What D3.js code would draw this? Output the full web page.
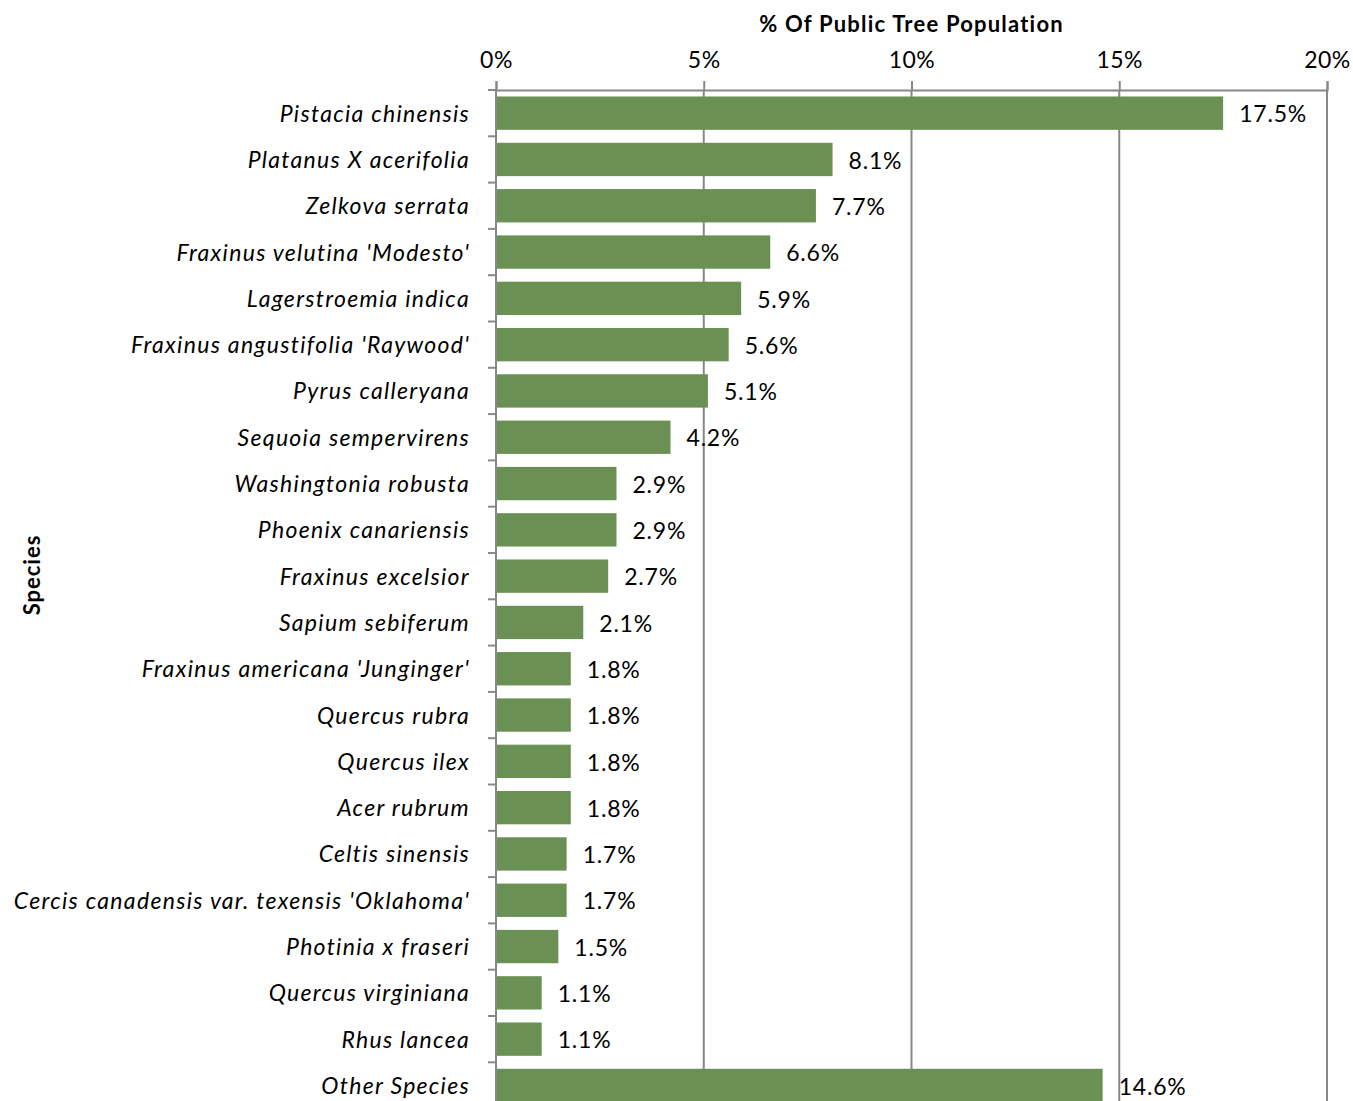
<!DOCTYPE html>
<html>
<head>
<meta charset="utf-8">
<script src="https://cdn.jsdelivr.net/npm/d3@7"></script>
<style>
  html, body { margin: 0; padding: 0; background: #fff; }
  svg { display: block; font-family: Lato, "Open Sans", sans-serif; }
</style>
</head>
<body>
<svg id="chart" width="1353" height="1101"></svg>
<script>
// Species and their share of the public tree population (%)
const species = [
  "Pistacia chinensis",
  "Platanus X acerifolia",
  "Zelkova serrata",
  "Fraxinus velutina 'Modesto'",
  "Lagerstroemia indica",
  "Fraxinus angustifolia 'Raywood'",
  "Pyrus calleryana",
  "Sequoia sempervirens",
  "Washingtonia robusta",
  "Phoenix canariensis",
  "Fraxinus excelsior",
  "Sapium sebiferum",
  "Fraxinus americana 'Junginger'",
  "Quercus rubra",
  "Quercus ilex",
  "Acer rubrum",
  "Celtis sinensis",
  "Cercis canadensis var. texensis 'Oklahoma'",
  "Photinia x fraseri",
  "Quercus virginiana",
  "Rhus lancea",
  "Other Species"
];
const shares = [17.5, 8.1, 7.7, 6.6, 5.9, 5.6, 5.1, 4.2, 2.9, 2.9, 2.7, 2.1, 1.8, 1.8, 1.8, 1.8, 1.7, 1.7, 1.5, 1.1, 1.1, 14.6];
const xTicks = [0, 5, 10, 15, 20];
const xTitle = "% Of Public Tree Population";
const yTitle = "Species";

const svg = d3.select("#chart");
const plotLeft = 496, plotRight = 1327, plotTop = 90, step = 46.3;
const plotBottom = plotTop + step * species.length;

const x = d3.scaleLinear().domain([0, 20]).range([plotLeft, plotRight]);
const y = d3.scaleBand().domain(species).range([plotTop, plotBottom]).paddingInner(0.28).paddingOuter(0.14);

const grid = "#888888";

// vertical gridlines
svg.append("g")
  .selectAll("line")
  .data(xTicks.filter(d => d > 0))
  .join("line")
  .attr("x1", d => x(d)).attr("x2", d => x(d))
  .attr("y1", plotTop).attr("y2", plotBottom)
  .attr("stroke", grid).attr("stroke-width", 2);

// bars
svg.append("g")
  .selectAll("rect")
  .data(species)
  .join("rect")
  .attr("x", x(0))
  .attr("y", d => y(d))
  .attr("width", (d, i) => x(shares[i]) - x(0))
  .attr("height", y.bandwidth())
  .attr("fill", "#6a9153");

// top axis
const xAxis = svg.append("g")
  .attr("transform", `translate(0,${plotTop})`)
  .call(d3.axisTop(x).tickValues(xTicks).tickFormat(d => d + "%").tickSize(9).tickPadding(13));
xAxis.select(".domain").attr("stroke", grid).attr("stroke-width", 2);
xAxis.selectAll(".tick line").attr("stroke", grid).attr("stroke-width", 2);
xAxis.selectAll(".tick text")
  .attr("font-family", "Lato, sans-serif")
  .attr("font-size", 23)
  .attr("letter-spacing", 0.5)
  .attr("fill", "#000");

// left axis with ticks between categories
const yAxisG = svg.append("g");
yAxisG.append("line")
  .attr("x1", plotLeft).attr("x2", plotLeft)
  .attr("y1", plotTop).attr("y2", plotBottom)
  .attr("stroke", grid).attr("stroke-width", 2);
yAxisG.selectAll("line.sep")
  .data(d3.range(species.length + 1))
  .join("line")
  .attr("class", "sep")
  .attr("x1", plotLeft - 8).attr("x2", plotLeft)
  .attr("y1", i => plotTop + i * step).attr("y2", i => plotTop + i * step)
  .attr("stroke", grid).attr("stroke-width", 2);

// category labels
svg.append("g")
  .selectAll("text")
  .data(species)
  .join("text")
  .attr("x", 470)
  .attr("y", d => y(d) + y.bandwidth() / 2)
  .attr("dy", "0.37em")
  .attr("text-anchor", "end")
  .attr("font-style", "italic")
  .attr("font-size", 23)
  .attr("letter-spacing", 1.3)
  .attr("fill", "#000")
  .text(d => d);

// value labels
svg.append("g")
  .selectAll("text")
  .data(species)
  .join("text")
  .attr("x", (d, i) => x(shares[i]) + 16)
  .attr("y", d => y(d) + y.bandwidth() / 2)
  .attr("dy", "0.4em")
  .attr("font-size", 23)
  .attr("letter-spacing", 0.8)
  .attr("fill", "#000")
  .text((d, i) => shares[i].toFixed(1) + "%");

// axis titles
svg.append("text")
  .attr("x", (plotLeft + plotRight) / 2)
  .attr("y", 32)
  .attr("text-anchor", "middle")
  .attr("font-weight", "bold")
  .attr("font-size", 22)
  .attr("letter-spacing", 1.2)
  .attr("fill", "#000")
  .text(xTitle);

svg.append("text")
  .attr("transform", `translate(40,575) rotate(-90)`)
  .attr("text-anchor", "middle")
  .attr("font-weight", "bold")
  .attr("font-size", 22)
  .attr("letter-spacing", 1)
  .attr("fill", "#000")
  .text(yTitle);
</script>
</body>
</html>
